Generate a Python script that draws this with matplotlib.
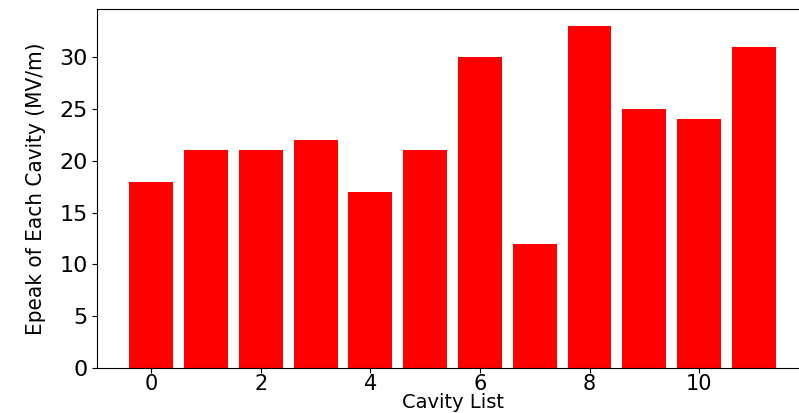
import matplotlib
matplotlib.use("Agg")
import matplotlib.pyplot as plt

cavities = list(range(12))
epeak = [18, 21, 21, 22, 17, 21, 30, 12, 33, 25, 24, 31]

fig = plt.figure(figsize=(7.99, 4.13), dpi=100)
ax = fig.add_axes([0.1214, 0.109, 0.89, 0.869])
ax.bar(cavities, epeak, color="red")
ax.set_xticks([0, 2, 4, 6, 8, 10])
ax.tick_params(axis="y", labelsize=16, pad=3)
ax.tick_params(axis="x", labelsize=15, pad=1)
ax.set_xlabel("Cavity List", fontsize=14, labelpad=-1)
ax.set_ylabel("Epeak of Each Cavity (MV/m)", fontsize=16,
              family="DejaVu Sans", stretch="condensed", labelpad=10)
fig.savefig("out.png", dpi=100)
